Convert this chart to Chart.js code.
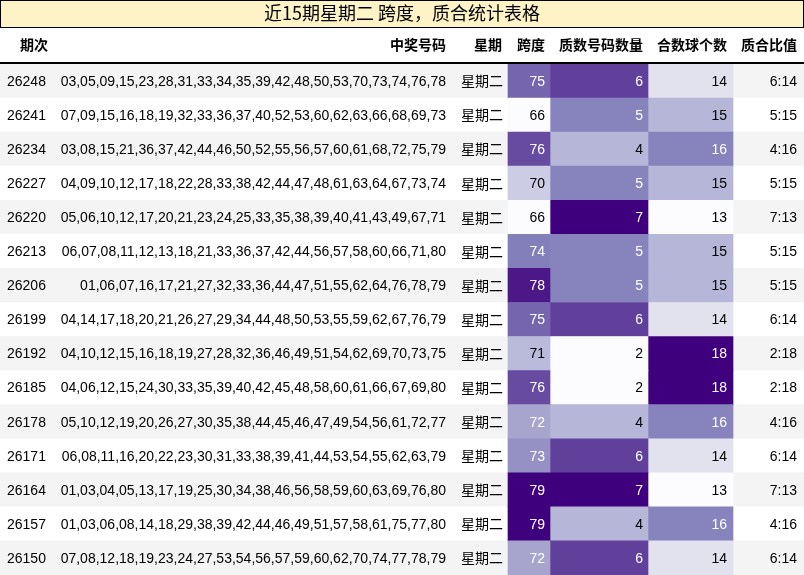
<!DOCTYPE html><html><head><meta charset="utf-8">
<script src="https://cdn.jsdelivr.net/npm/chart.js@4"></script>
<style>body{margin:0;background:#fff}canvas{display:block}</style></head><body>
<canvas id="c" width="804" height="575"></canvas>
<script>
const ids=["26248","26241","26234","26227","26220","26213","26206","26199","26192","26185","26178","26171","26164","26157","26150"];
const numbers=["03,05,09,15,23,28,31,33,34,35,39,42,48,50,53,70,73,74,76,78","07,09,15,16,18,19,32,33,36,37,40,52,53,60,62,63,66,68,69,73","03,08,15,21,36,37,42,44,46,50,52,55,56,57,60,61,68,72,75,79","04,09,10,12,17,18,22,28,33,38,42,44,47,48,61,63,64,67,73,74","05,06,10,12,17,20,21,23,24,25,33,35,38,39,40,41,43,49,67,71","06,07,08,11,12,13,18,21,33,36,37,42,44,56,57,58,60,66,71,80","01,06,07,16,17,21,27,32,33,36,44,47,51,55,62,64,76,78,79","04,14,17,18,20,21,26,27,29,34,44,48,50,53,55,59,62,67,76,79","04,10,12,15,16,18,19,27,28,32,36,46,49,51,54,62,69,70,73,75","04,06,12,15,24,30,33,35,39,40,42,45,48,58,60,61,66,67,69,80","05,10,12,19,20,26,27,30,35,38,44,45,46,47,49,54,56,61,72,77","06,08,11,16,20,22,23,30,31,33,38,39,41,44,53,54,55,62,63,79","01,03,04,05,13,17,19,25,30,34,38,46,56,58,59,60,63,69,76,80","01,03,06,08,14,18,29,38,39,42,44,46,49,51,57,58,61,75,77,80","07,08,12,18,19,23,24,27,53,54,56,57,59,60,62,70,74,77,78,79"];
const weekday="星期二";
const spans=[75,66,76,70,66,74,78,75,71,76,72,73,79,79,72];
const primes=[6,5,4,5,7,5,5,6,2,2,4,6,7,4,6];
const composites=[14,15,16,15,13,15,15,14,18,18,16,14,13,16,14];
const headers=["期次","中奖号码","星期","跨度","质数号码数量","合数球个数","质合比值"];
const title="近15期星期二 跨度，质合统计表格";

const stops=["#fcfbfd","#efedf5","#dadaeb","#bcbddc","#9e9ac8","#807dba","#6a51a3","#54278f","#3f007d"];
function hex(h){return [1,3,5].map(i=>parseInt(h.substr(i,2),16));}
function purples(t){t=Math.max(0,Math.min(1,t));const p=t*8,i=Math.min(7,Math.floor(p)),f=p-i;const a=hex(stops[i]),b=hex(stops[i+1]);return `rgb(${a.map((v,k)=>Math.round(v+(b[k]-v)*f)).join(',')})`;}
const norm=(arr)=>{const mn=Math.min(...arr),mx=Math.max(...arr);return arr.map(v=>(v-mn)/(mx-mn));};
const spanT=norm(spans),primeT=norm(primes),compT=norm(composites);
const cols={span:[508,550],prime:[550,648],comp:[648,733]};
const labels=ids.map((_,i)=>i);

const textPlugin={id:'txt',afterDatasetsDraw(ch){
 const c=ch.ctx,y=ch.scales.y;
 c.save();
 c.fillStyle="#fdf3c6";c.fillRect(1,1,802,26);c.strokeStyle="#000";c.lineWidth=1;c.strokeRect(0.5,0.5,803,27);
 c.fillStyle="#000";c.font="18px 'Noto Sans CJK SC'";c.textAlign="center";c.textBaseline="middle";c.fillText(title,402,13,300);
 c.font="bold 14px 'Noto Sans CJK SC'";
 const hx=[[20,'left'],[446,'right'],[502,'right'],[545,'right'],[643,'right'],[727,'right'],[797,'right']];
 headers.forEach((h,i)=>{c.textAlign=hx[i][1];c.fillText(h,hx[i][0],45);});
 c.fillRect(0,62,804,2);
 c.font="14px 'Liberation Sans'";
 ids.forEach((id,i)=>{const yy=y.getPixelForValue(i)+1;
  c.fillStyle="#000";c.textAlign="left";c.fillText(id,7,yy,48);
  c.textAlign="right";c.fillText(numbers[i],446,yy,386);
  c.font="14px 'Noto Sans CJK SC'";c.textAlign="center";c.fillText(weekday,482,yy-1);c.font="14px 'Liberation Sans'";
  c.textAlign="right";
  c.fillStyle=spanT[i]>0.4?"#fff":"#000";c.fillText(spans[i],545,yy);
  c.fillStyle=primeT[i]>0.4?"#fff":"#000";c.fillText(primes[i],643,yy);
  c.fillStyle=compT[i]>0.4?"#fff":"#000";c.fillText(composites[i],727,yy);
  c.fillStyle="#000";c.fillText(primes[i]+":"+composites[i],797,yy);
 });
 c.restore();
}};
const bar=(rng,colors,order)=>({data:labels.map(()=>rng),backgroundColor:colors,barPercentage:1,categoryPercentage:1,grouped:false,borderWidth:0,order});
new Chart(document.getElementById('c'),{type:'bar',
 data:{labels,datasets:[
  bar([0,804],labels.map(i=>i%2===0?"#f4f4f4":"#ffffff"),10),
  bar(cols.span,spanT.map(purples),1),
  bar(cols.prime,primeT.map(purples),1),
  bar(cols.comp,compT.map(purples),1)]},
 options:{indexAxis:'y',responsive:false,animation:false,devicePixelRatio:1,
  layout:{padding:{top:64,left:0,right:0,bottom:0}},
  plugins:{legend:{display:false},tooltip:{enabled:false}},
  scales:{x:{type:'linear',min:0,max:804,display:false},y:{type:'category',display:false,offset:true}}},
 plugins:[textPlugin]});
</script></body></html>
